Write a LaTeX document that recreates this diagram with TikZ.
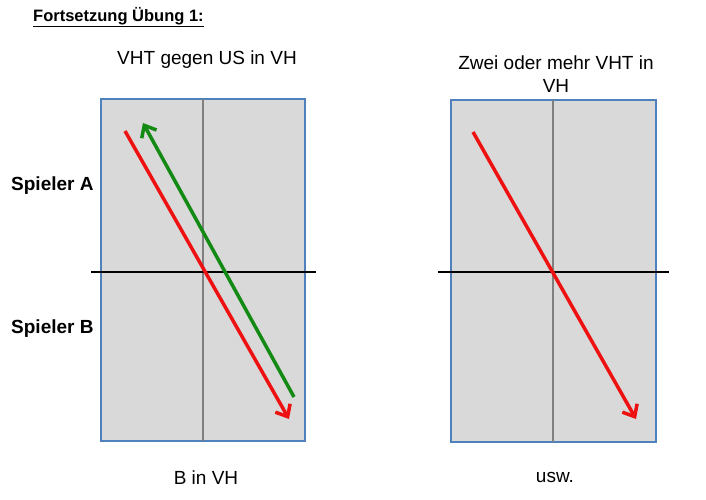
\documentclass[tikz,border=0pt]{standalone}
\usepackage{fontspec}
\setmainfont{Liberation Sans}
\usetikzlibrary{arrows.meta}
\definecolor{boxblue}{HTML}{4F81BD}
\definecolor{boxfill}{HTML}{D9D9D9}
\definecolor{arrred}{HTML}{EE1111}
\definecolor{arrgreen}{HTML}{138A13}
\begin{document}
\begin{tikzpicture}[x=1pt,y=-1pt,
  field/.style={draw=boxblue,fill=boxfill,line width=2pt},
  midline/.style={draw=gray,line width=1.6pt},
  netline/.style={draw=black,line width=1.6pt},
  redarr/.style={draw=arrred,line width=3.5pt,-{Straight Barb[length=10pt,width=17pt,line width=3.5pt]}},
  greenarr/.style={draw=arrgreen,line width=3.5pt,-{Straight Barb[length=10pt,width=17pt,line width=3.5pt]}},
  lbl/.style={font=\fontsize{19}{22}\selectfont,inner sep=0pt},
  side/.style={font=\fontsize{19}{22}\selectfont\bfseries,inner sep=0pt,anchor=west}]
\useasboundingbox (0,0) rectangle (706,500);
\fill[white] (0,0) rectangle (706,500);
% title
\node[anchor=west,inner sep=0pt,font=\fontsize{16.5}{19}\selectfont\bfseries] (title) at (33,17) {\underline{Fortsetzung Übung 1:}};
% left field
\draw[field] (101,99) rectangle (305,441);
\coordinate (lt) at (203,99); \coordinate (lb) at (203,441);
\draw[midline] (lt) -- (lb);
\coordinate (ln1) at (91,272); \coordinate (ln2) at (316,272);
\draw[netline] (ln1) -- (ln2);
\coordinate (r1s) at (125,131); \coordinate (r1e) at (289,419);
\draw[redarr] (r1s) -- (r1e);
\coordinate (g1s) at (294,397); \coordinate (g1e) at (143,123);
\draw[greenarr] (g1s) -- (g1e);
% right field
\draw[field] (451,100) rectangle (656,442);
\coordinate (rt) at (553,100); \coordinate (rb) at (553,442);
\draw[midline] (rt) -- (rb);
\coordinate (rn1) at (438,272); \coordinate (rn2) at (669,272);
\draw[netline] (rn1) -- (rn2);
\coordinate (r2s) at (473,132); \coordinate (r2e) at (636,419);
\draw[redarr] (r2s) -- (r2e);
% labels
\node[lbl] (h1) at (207,60) {VHT gegen US in VH};
\node[lbl] (h2a) at (556,63) {Zwei oder mehr VHT in};
\node[lbl] (h2b) at (556,86) {VH};
\node[side] (sa) at (11,186) {Spieler A};
\node[side] (sb) at (11,329) {Spieler B};
\node[lbl] (f1) at (206,478) {B in VH};
\node[lbl] (f2) at (555,477) {usw.};
\end{tikzpicture}
\end{document}
